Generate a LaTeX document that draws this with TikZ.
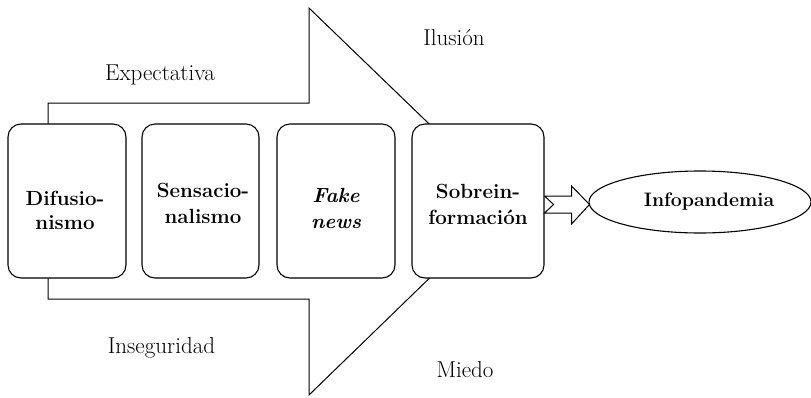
\documentclass[tikz,border=0pt]{standalone}
\usepackage{fontspec}
\usetikzlibrary{shapes.geometric,calc}
\begin{document}
\begin{tikzpicture}[x=1pt,y=-1pt,
  outline/.style={draw=black,line width=1pt,line join=miter},
  stagebox/.style={draw=black,fill=white,line width=1.1pt,rounded corners=13pt,
    minimum width=#1,minimum height=154pt,inner sep=0pt},
  stagebox/.default=118pt,
  stagetext/.style={inner sep=0pt,align=center,
    font=\fontsize{20.5}{26}\selectfont\bfseries},
  caption/.style={anchor=base,inner sep=0pt,font=\fontsize{23}{26}\selectfont},
  goal/.style={draw=black,fill=white,line width=1.1pt,ellipse,inner sep=0pt,
    minimum width=222pt,minimum height=62pt,font=\fontsize{19.5}{24}\selectfont\bfseries}]
\useasboundingbox (0,0) rectangle (811,397);

% big background arrow, partly hidden by the stage boxes
\coordinate (tailtop) at (48,103);
\coordinate (tailbot) at (48,299);
\coordinate (headtop) at (309,8);
\coordinate (headbot) at (309,395);
\coordinate (tip) at (509,201);
\draw[outline] (48,130) -- (tailtop) -- (309,103) -- (headtop) -- (tip)
  -- (headbot) -- (309,299) -- (tailbot) -- (48,270);

% stages
\node[stagebox] (b1) at (67,201) {};
\node[stagebox=117pt] (b2) at (200.5,201) {};
\node[stagebox] (b3) at (336,201) {};
\node[stagebox=132pt] (b4) at (478,201) {};
\node[stagetext] (t1) at (65,210) {Difusio-\\[-2pt]nismo};
\node[stagetext] (t2) at (203,203) {Sensacio-\\nalismo};
\node[stagetext] (t3) at (336,208) {\itshape Fake\\\itshape news};
\node[stagetext] (t4) at (478,204) {Sobrein-\\formación};

% result
\node[goal] (res) at (700,202) {\hspace*{18pt}Infopandemia};

% open notched arrow from the last stage to the result
\draw[outline,fill=white]
  ($(b4.east)+(0,-5)$) -- ($(b4.east)+(27,-5)$) -- ($(b4.east)+(27,-15)$)
  -- ($(res.west)+(1,2.5)$) -- ($(b4.east)+(27,23)$) -- ($(b4.east)+(27,12)$)
  -- ($(b4.east)+(0,12)$) -- ($(b4.east)+(9,3.5)$) -- cycle;

% side captions
\node[caption] (c1) at (160,80) {Expectativa};
\node[caption] (c2) at (454,45) {Ilusión};
\node[caption] (c3) at (161.5,353) {Inseguridad};
\node[caption] (c4) at (465,377) {Miedo};
\end{tikzpicture}
\end{document}
